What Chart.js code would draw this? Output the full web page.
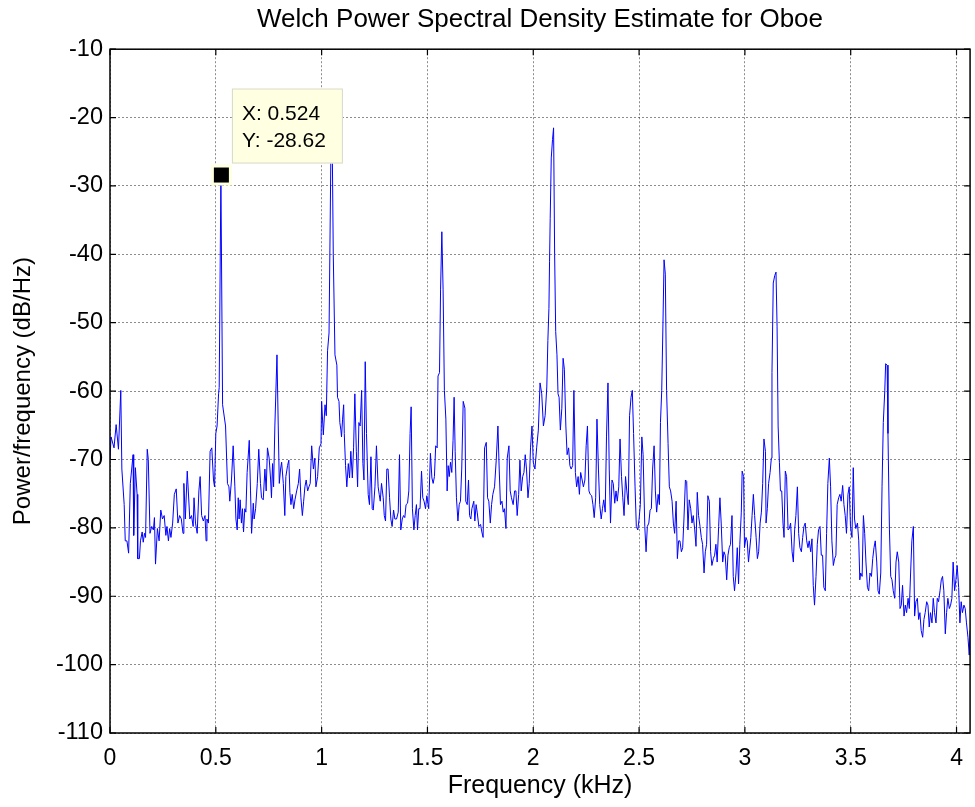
<!DOCTYPE html>
<html lang="en">
<head>
  <meta charset="UTF-8" />
  <title>Welch PSD - Oboe</title>
  <script src="https://cdn.jsdelivr.net/npm/chart.js"></script>
  <style>
    html, body { margin: 0; padding: 0; background: #fff; }
    #wrap { width: 975px; height: 807px; position: relative; }
  </style>
</head>
<body>
  <div id="wrap"><canvas id="psdChart"></canvas></div>
  <script>
    // frequency axis (kHz) and PSD estimate (dB/Hz)
    const freqKHz = [
      0.000, 0.005, 0.019, 0.029, 0.040, 0.051, 0.056, 0.067, 0.072, 0.080, 0.088, 0.096, 0.109, 0.112, 0.120, 0.128,
      0.131, 0.139, 0.144, 0.152, 0.157, 0.163, 0.168, 0.176, 0.181, 0.189, 0.197, 0.205, 0.210, 0.215, 0.224, 0.232,
      0.240, 0.248, 0.256, 0.264, 0.269, 0.276, 0.282, 0.288, 0.296, 0.304, 0.313, 0.321, 0.329, 0.337, 0.345, 0.349,
      0.356, 0.365, 0.377, 0.385, 0.393, 0.397, 0.404, 0.412, 0.420, 0.426, 0.433, 0.441, 0.449, 0.454, 0.458, 0.465,
      0.473, 0.481, 0.489, 0.494, 0.500, 0.506, 0.513, 0.516, 0.524, 0.532, 0.546, 0.555, 0.562, 0.566, 0.574, 0.582,
      0.590, 0.595, 0.601, 0.606, 0.610, 0.615, 0.621, 0.626, 0.631, 0.637, 0.642, 0.648, 0.658, 0.664, 0.669, 0.677,
      0.681, 0.688, 0.696, 0.703, 0.711, 0.716, 0.724, 0.732, 0.738, 0.744, 0.752, 0.759, 0.763, 0.768, 0.773, 0.779,
      0.789, 0.795, 0.800, 0.806, 0.811, 0.819, 0.826, 0.831, 0.839, 0.845, 0.850, 0.855, 0.861, 0.868, 0.874, 0.882,
      0.890, 0.896, 0.902, 0.909, 0.915, 0.921, 0.927, 0.934, 0.940, 0.946, 0.953, 0.961, 0.968, 0.973, 0.981, 0.989,
      0.997, 1.000, 1.008, 1.016, 1.022, 1.028, 1.035, 1.044, 1.050, 1.055, 1.063, 1.072, 1.075, 1.082, 1.086, 1.091,
      1.094, 1.099, 1.104, 1.107, 1.113, 1.119, 1.126, 1.132, 1.138, 1.145, 1.151, 1.157, 1.164, 1.170, 1.176, 1.182,
      1.189, 1.195, 1.200, 1.206, 1.212, 1.220, 1.226, 1.233, 1.239, 1.244, 1.252, 1.259, 1.267, 1.272, 1.277, 1.283,
      1.291, 1.296, 1.302, 1.308, 1.314, 1.321, 1.327, 1.333, 1.340, 1.346, 1.354, 1.362, 1.368, 1.374, 1.381, 1.387,
      1.393, 1.399, 1.406, 1.412, 1.418, 1.423, 1.429, 1.436, 1.442, 1.448, 1.453, 1.459, 1.465, 1.472, 1.478, 1.484,
      1.491, 1.497, 1.506, 1.514, 1.521, 1.527, 1.533, 1.539, 1.546, 1.550, 1.557, 1.562, 1.568, 1.574, 1.580, 1.587,
      1.593, 1.598, 1.603, 1.609, 1.615, 1.621, 1.626, 1.631, 1.637, 1.644, 1.650, 1.656, 1.662, 1.669, 1.677, 1.681,
      1.688, 1.694, 1.699, 1.705, 1.710, 1.719, 1.724, 1.730, 1.735, 1.743, 1.751, 1.757, 1.763, 1.770, 1.778, 1.784,
      1.790, 1.797, 1.803, 1.809, 1.817, 1.825, 1.833, 1.839, 1.845, 1.852, 1.858, 1.864, 1.871, 1.877, 1.885, 1.891,
      1.897, 1.905, 1.912, 1.918, 1.924, 1.931, 1.937, 1.943, 1.950, 1.956, 1.962, 1.968, 1.975, 1.981, 1.987, 1.994,
      2.000, 2.008, 2.016, 2.024, 2.032, 2.040, 2.048, 2.056, 2.064, 2.069, 2.074, 2.077, 2.080, 2.085, 2.091, 2.096,
      2.101, 2.106, 2.112, 2.117, 2.122, 2.128, 2.135, 2.141, 2.147, 2.154, 2.160, 2.167, 2.173, 2.179, 2.186, 2.192,
      2.199, 2.205, 2.212, 2.218, 2.224, 2.231, 2.237, 2.244, 2.250, 2.256, 2.263, 2.269, 2.276, 2.282, 2.288, 2.295,
      2.301, 2.308, 2.314, 2.321, 2.327, 2.333, 2.340, 2.346, 2.353, 2.359, 2.365, 2.372, 2.378, 2.385, 2.391, 2.397,
      2.404, 2.410, 2.417, 2.423, 2.429, 2.436, 2.442, 2.449, 2.455, 2.462, 2.468, 2.474, 2.481, 2.487, 2.494, 2.500,
      2.506, 2.513, 2.519, 2.527, 2.533, 2.539, 2.546, 2.552, 2.558, 2.564, 2.571, 2.577, 2.583, 2.590, 2.596, 2.601,
      2.607, 2.613, 2.618, 2.624, 2.630, 2.637, 2.643, 2.649, 2.656, 2.662, 2.668, 2.675, 2.681, 2.687, 2.693, 2.700,
      2.706, 2.712, 2.719, 2.725, 2.731, 2.737, 2.744, 2.750, 2.756, 2.763, 2.769, 2.775, 2.781, 2.788, 2.794, 2.800,
      2.807, 2.813, 2.819, 2.825, 2.832, 2.838, 2.844, 2.851, 2.857, 2.863, 2.869, 2.876, 2.882, 2.888, 2.895, 2.901,
      2.907, 2.914, 2.920, 2.926, 2.932, 2.939, 2.945, 2.951, 2.958, 2.964, 2.970, 2.976, 2.983, 2.987, 2.994, 2.998,
      3.005, 3.011, 3.017, 3.028, 3.034, 3.040, 3.046, 3.053, 3.059, 3.065, 3.072, 3.078, 3.084, 3.090, 3.097, 3.100,
      3.106, 3.112, 3.119, 3.125, 3.128, 3.134, 3.141, 3.147, 3.152, 3.157, 3.163, 3.168, 3.174, 3.180, 3.185, 3.191,
      3.197, 3.204, 3.210, 3.216, 3.223, 3.229, 3.235, 3.241, 3.248, 3.254, 3.260, 3.267, 3.273, 3.279, 3.285, 3.292,
      3.298, 3.304, 3.311, 3.317, 3.323, 3.329, 3.336, 3.342, 3.348, 3.355, 3.361, 3.367, 3.373, 3.380, 3.386, 3.392,
      3.399, 3.405, 3.411, 3.418, 3.424, 3.430, 3.436, 3.443, 3.449, 3.455, 3.462, 3.468, 3.474, 3.480, 3.487, 3.493,
      3.499, 3.506, 3.512, 3.518, 3.524, 3.532, 3.538, 3.543, 3.547, 3.554, 3.560, 3.566, 3.572, 3.579, 3.585, 3.591,
      3.598, 3.604, 3.610, 3.616, 3.623, 3.629, 3.635, 3.642, 3.648, 3.654, 3.661, 3.665, 3.672, 3.676, 3.683, 3.689,
      3.695, 3.701, 3.708, 3.714, 3.720, 3.727, 3.733, 3.739, 3.745, 3.752, 3.758, 3.764, 3.771, 3.777, 3.783, 3.789,
      3.796, 3.802, 3.808, 3.815, 3.821, 3.827, 3.833, 3.840, 3.846, 3.852, 3.859, 3.865, 3.871, 3.877, 3.884, 3.890,
      3.896, 3.903, 3.909, 3.915, 3.922, 3.928, 3.934, 3.940, 3.947, 3.953, 3.959, 3.966, 3.972, 3.978, 3.984, 3.991,
      3.997, 4.003, 4.010, 4.016, 4.022, 4.028, 4.035, 4.041, 4.047, 4.054, 4.060, 4.064
    ];
    const psdDb = [
      -70.0, -66.7, -68.3, -64.9, -68.5, -59.9, -71.4, -76.6, -81.9, -81.9, -83.7, -73.5, -69.3, -81.1, -71.2, -75.1,
      -84.5, -84.5, -81.9, -80.6, -82.1, -80.8, -81.4, -68.5, -70.0, -80.8, -79.8, -80.3, -78.5, -85.3, -80.1, -81.9,
      -77.4, -78.7, -78.2, -81.1, -79.8, -81.9, -80.1, -81.4, -79.3, -75.1, -74.3, -79.3, -78.2, -78.7, -80.8, -73.5,
      -78.7, -71.7, -78.7, -78.2, -79.8, -75.6, -79.3, -80.8, -74.6, -72.5, -78.2, -79.0, -78.2, -81.9, -78.7, -79.3,
      -68.8, -68.3, -73.0, -74.0, -66.2, -65.1, -60.4, -59.5, -28.62, -62.0, -65.1, -73.5, -74.0, -76.1, -73.0, -68.0,
      -74.0, -78.7, -80.3, -75.6, -78.7, -75.9, -79.3, -77.2, -80.6, -77.2, -77.7, -71.9, -67.2, -74.6, -80.8, -76.4,
      -78.7, -77.2, -73.5, -68.5, -73.5, -75.6, -75.9, -71.4, -74.6, -68.3, -69.8, -73.0, -75.6, -70.6, -74.0, -65.1,
      -54.7, -65.1, -73.5, -71.4, -70.4, -73.5, -78.2, -72.5, -70.9, -70.1, -74.8, -76.6, -75.1, -77.2, -75.9, -74.6,
      -73.5, -71.4, -75.6, -78.2, -76.1, -74.0, -73.0, -74.6, -74.0, -73.5, -68.0, -71.4, -69.8, -74.0, -72.5, -68.3,
      -67.7, -61.5, -66.4, -62.0, -63.6, -54.1, -51.5, -24.5, -23.5, -40.0, -54.7, -56.2, -60.9, -61.5, -64.6, -65.7,
      -66.7, -64.1, -62.0, -66.2, -70.9, -74.0, -70.6, -72.7, -68.8, -72.7, -68.3, -60.4, -68.8, -74.0, -64.6, -65.1,
      -59.9, -70.6, -73.0, -55.7, -66.2, -75.1, -76.6, -69.6, -77.2, -77.4, -74.0, -68.0, -74.0, -75.1, -76.1, -73.5,
      -75.6, -78.2, -79.0, -71.4, -71.4, -75.6, -78.7, -79.8, -77.4, -78.7, -78.7, -77.7, -69.3, -80.3, -78.7, -78.2,
      -78.5, -76.6, -76.4, -74.6, -66.2, -62.3, -77.2, -80.3, -78.2, -76.6, -80.3, -77.2, -77.2, -71.7, -75.6, -76.1,
      -77.2, -75.3, -77.2, -69.1, -72.7, -73.5, -72.5, -68.0, -68.3, -57.8, -57.3, -45.2, -36.7, -45.2, -59.9, -64.1,
      -74.6, -70.9, -72.5, -70.4, -71.9, -67.2, -60.9, -68.8, -75.6, -79.0, -76.6, -76.1, -71.4, -61.5, -62.5, -76.1,
      -76.6, -73.0, -78.2, -78.7, -77.2, -76.1, -79.0, -76.6, -77.7, -79.8, -79.5, -80.6, -81.4, -68.3, -67.5, -75.6,
      -76.1, -79.3, -76.6, -75.1, -74.0, -70.1, -65.1, -71.4, -76.6, -76.1, -77.7, -77.2, -80.1, -69.8, -68.0, -74.6,
      -75.6, -76.6, -74.6, -74.6, -78.2, -75.1, -70.1, -74.6, -72.5, -71.9, -69.3, -71.4, -75.6, -73.5, -68.3, -65.1,
      -70.4, -71.4, -68.3, -65.7, -58.8, -60.4, -65.1, -63.6, -59.4, -52.6, -47.9, -41.0, -34.8, -25.9, -23.2, -21.5,
      -40.0, -51.3, -54.7, -60.4, -60.9, -65.7, -62.5, -55.2, -56.8, -65.1, -69.3, -68.3, -70.9, -71.4, -70.9, -59.9,
      -71.9, -74.0, -72.5, -75.1, -71.9, -73.0, -74.0, -73.0, -68.0, -65.1, -74.6, -75.1, -75.3, -76.6, -78.5, -75.6,
      -64.1, -71.4, -76.6, -78.7, -77.2, -75.9, -77.7, -66.7, -58.8, -71.4, -79.3, -73.0, -73.5, -76.4, -74.6, -76.1,
      -74.0, -67.0, -72.5, -75.6, -78.2, -72.5, -74.6, -76.6, -63.6, -60.9, -59.9, -66.2, -74.0, -79.8, -80.3, -78.7,
      -76.6, -66.7, -69.3, -79.8, -83.5, -79.8, -79.3, -77.4, -77.2, -71.4, -68.0, -74.6, -77.7, -75.1, -76.6, -64.6,
      -59.9, -49.9, -40.8, -42.9, -59.9, -67.7, -74.0, -74.6, -76.1, -79.3, -80.8, -76.1, -84.5, -81.9, -81.9, -83.5,
      -82.9, -78.7, -73.0, -73.2, -80.3, -75.9, -77.2, -79.3, -78.2, -80.3, -82.7, -74.8, -78.2, -79.8, -81.4, -82.4,
      -86.6, -83.5, -82.4, -75.3, -76.1, -83.5, -85.5, -84.5, -84.0, -82.4, -85.0, -79.8, -75.6, -79.3, -85.0, -83.5,
      -84.0, -87.6, -84.0, -82.9, -82.4, -78.2, -87.1, -89.2, -86.6, -82.9, -88.2, -82.4, -77.7, -71.7, -72.5, -82.9,
      -81.4, -81.9, -85.0, -81.4, -78.2, -75.1, -78.2, -81.4, -84.5, -83.5, -79.3, -77.7, -73.5, -67.0, -68.8, -79.3,
      -77.2, -73.5, -71.9, -69.8, -57.3, -44.2, -43.1, -42.6, -50.5, -65.1, -70.4, -74.6, -74.6, -79.3, -81.4, -71.7,
      -72.5, -80.3, -80.1, -79.3, -83.5, -85.0, -80.3, -78.2, -74.0, -80.8, -82.9, -83.5, -81.4, -79.8, -79.3, -81.9,
      -82.9, -81.9, -83.5, -81.6, -88.4, -91.3, -87.1, -82.4, -80.3, -79.8, -84.0, -84.0, -88.7, -89.2, -80.8, -73.5,
      -69.8, -74.0, -81.9, -85.5, -84.5, -84.0, -76.6, -75.6, -75.1, -76.1, -73.8, -76.6, -78.2, -80.8, -75.1, -74.0,
      -79.8, -81.4, -71.2, -78.7, -80.1, -79.3, -81.9, -87.6, -86.6, -87.1, -78.2, -80.8, -85.0, -88.7, -89.2, -86.6,
      -87.1, -84.5, -82.9, -81.9, -85.0, -89.2, -89.7, -86.6, -74.0, -64.6, -59.9, -56.0, -56.2, -66.2, -80.3, -87.1,
      -87.6, -89.2, -90.3, -85.0, -83.5, -85.0, -91.8, -91.3, -88.4, -92.9, -91.3, -92.4, -90.3, -91.8, -86.6, -81.9,
      -79.8, -92.9, -90.8, -90.3, -93.4, -92.4, -95.0, -96.0, -93.4, -92.4, -90.8, -91.3, -94.5, -92.4, -93.9, -90.3,
      -92.4, -93.9, -90.3, -90.8, -89.2, -87.6, -87.1, -89.2, -95.5, -92.4, -90.3, -91.8, -91.3, -90.3, -85.0, -89.2,
      -87.6, -85.5, -88.7, -93.9, -90.8, -92.4, -91.3, -91.8, -93.9, -96.0, -98.6, -95.0
    ];

    // axis ticks and the marked data point
    const xTicks = [0, 0.5, 1, 1.5, 2, 2.5, 3, 3.5, 4];
    const yTicks = [-110, -100, -90, -80, -70, -60, -50, -40, -30, -20, -10];
    const xMax = 4.064;
    const tipPoint = { x: 0.524, y: -28.62 };

    const FONT = "'Liberation Sans', Arial, sans-serif";

    // MATLAB style box with inward tick marks on all four sides
    const boxPlugin = {
      id: 'box',
      afterDatasetsDraw(chart) {
        const { ctx, chartArea: a, scales: { x, y } } = chart;
        ctx.save();
        ctx.strokeStyle = '#000';
        ctx.lineWidth = 1.5;
        ctx.strokeRect(a.left, a.top, a.right - a.left, a.bottom - a.top);
        ctx.lineWidth = 1.2;
        ctx.beginPath();
        xTicks.forEach(v => {
          const px = x.getPixelForValue(v);
          ctx.moveTo(px, a.bottom); ctx.lineTo(px, a.bottom - 6);
          ctx.moveTo(px, a.top); ctx.lineTo(px, a.top + 6);
        });
        yTicks.forEach(v => {
          const py = y.getPixelForValue(v);
          ctx.moveTo(a.left, py); ctx.lineTo(a.left + 6, py);
          ctx.moveTo(a.right, py); ctx.lineTo(a.right - 6, py);
        });
        ctx.stroke();
        ctx.restore();
      }
    };

    // data cursor box
    const tipPlugin = {
      id: 'datatip',
      afterDraw(chart) {
        const { ctx, scales: { x, y } } = chart;
        const px = x.getPixelForValue(tipPoint.x);
        const py = y.getPixelForValue(tipPoint.y);
        ctx.save();
        // marker
        ctx.fillStyle = '#ffffe1';
        ctx.fillRect(px - 10, py - 12, 21, 21);
        ctx.fillStyle = '#000';
        ctx.fillRect(px - 7, py - 9, 15, 15);
        // label box
        const bx = px + 11, by = py - 88, bw = 111, bh = 75;
        ctx.fillStyle = '#ffffe1';
        ctx.fillRect(bx, by, bw, bh);
        ctx.strokeStyle = '#d9d9cc';
        ctx.lineWidth = 1;
        ctx.strokeRect(bx + 0.5, by + 0.5, bw - 1, bh - 1);
        ctx.fillStyle = '#000';
        ctx.font = '21px ' + FONT;
        ctx.textBaseline = 'middle';
        ctx.textAlign = 'left';
        ctx.fillText('X: ' + tipPoint.x, bx + 10, by + 26);
        ctx.fillText('Y: ' + tipPoint.y, bx + 10, by + 53);
        ctx.restore();
      }
    };

    new Chart(document.getElementById('psdChart'), {
      type: 'line',
      data: {
        datasets: [{
          data: freqKHz.map((f, i) => ({ x: f, y: psdDb[i] })),
          borderColor: '#0000ff',
          borderWidth: 1,
          pointRadius: 0,
          tension: 0,
          fill: false
        }]
      },
      options: {
        responsive: true,
        maintainAspectRatio: false,
        animation: false,
        layout: { padding: { top: 0, right: 2, bottom: 0, left: 0 } },
        plugins: {
          legend: { display: false },
          tooltip: { enabled: false },
          title: {
            display: true,
            text: 'Welch Power Spectral Density Estimate for Oboe',
            fullSize: false,
            color: '#000',
            font: { family: FONT, size: 26, weight: 'normal' },
            padding: { top: 4, bottom: 14 }
          }
        },
        scales: {
          x: {
            type: 'linear',
            min: 0,
            max: xMax,
            afterFit(scale) { scale.height = 74; },
            afterBuildTicks(scale) { scale.ticks = xTicks.map(v => ({ value: v })); },
            ticks: {
              color: '#000',
              font: { family: FONT, size: 23 },
              padding: 12,
              maxRotation: 0,
              autoSkip: false,
              callback: v => String(v)
            },
            grid: { color: 'rgba(0,0,0,0.45)', lineWidth: 1, drawTicks: false },
            border: { display: false, dash: [2, 2] },
            title: {
              display: true,
              text: 'Frequency (kHz)',
              color: '#000',
              font: { family: FONT, size: 25 },
              padding: { top: 0, bottom: 6 }
            }
          },
          y: {
            min: -110,
            max: -10,
            afterFit(scale) { scale.width = 110; },
            afterBuildTicks(scale) { scale.ticks = yTicks.map(v => ({ value: v })); },
            ticks: {
              color: '#000',
              font: { family: FONT, size: 23.5 },
              padding: 7,
              autoSkip: false,
              callback: v => String(v)
            },
            grid: { color: 'rgba(0,0,0,0.45)', lineWidth: 1, drawTicks: false },
            border: { display: false, dash: [2, 2] },
            title: {
              display: true,
              text: 'Power/frequency (dB/Hz)',
              color: '#000',
              font: { family: FONT, size: 24 },
              padding: { top: 9, bottom: 0 }
            }
          }
        }
      },
      plugins: [boxPlugin, tipPlugin]
    });
  </script>
</body>
</html>
